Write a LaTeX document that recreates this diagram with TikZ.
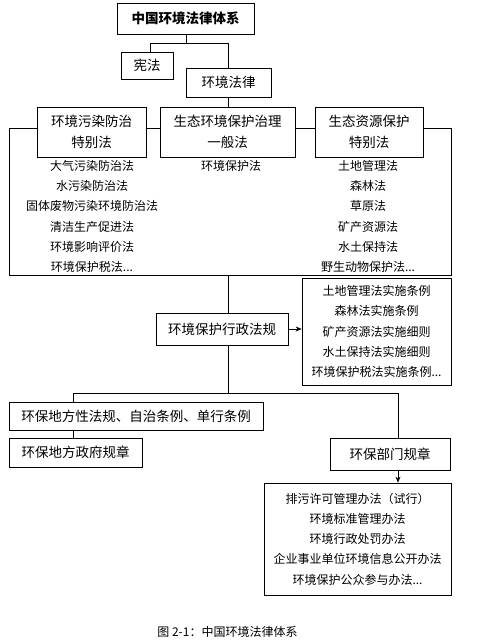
\documentclass[tikz,border=0pt]{standalone}
\usepackage{fontspec}
\setmainfont{Noto Sans CJK SC}
\usetikzlibrary{arrows.meta}
\begin{document}
\begin{tikzpicture}[x=1pt,y=-1pt,line width=0.7pt,
  box/.style={draw,fill=white,inner sep=0pt,align=center,font=\fontsize{13.5}{21}\selectfont},
  lst/.style={align=center,inner sep=0pt,font=\fontsize{12}{20.2}\selectfont}]
\useasboundingbox (0,0) rectangle (484,644);
\node [box,minimum width=137,minimum height=31,font=\fontsize{13.5}{15}\selectfont\bfseries] (title) at (185.5,18.5) {中国环境法律体系};
\node [box,minimum width=52,minimum height=27] (xianfa) at (147,65.5) {宪法};
\node [box,minimum width=85,minimum height=29] (hjfl) at (228.5,82.5) {环境法律};
\coordinate (j1) at (186,43);
\coordinate (j1l) at (150,43);
\coordinate (j1r) at (228,43);
\draw (j1 |- title.south) -- (j1);
\draw (j1l) -- (j1r);
\draw (j1l) -- (j1l |- xianfa.north);
\draw (j1r) -- (j1r |- hjfl.north);
\node [box,minimum width=109,minimum height=50] (wr) at (91.5,132) {环境污染防治\\特别法};
\node [box,minimum width=135,minimum height=50] (yb) at (227.5,132) {生态环境保护治理\\一般法};
\node [box,minimum width=108,minimum height=50] (zy) at (369,132) {生态资源保护\\特别法};
\draw (hjfl.south) -- (hjfl.south |- yb.north);
\coordinate (fl) at (9,128);
\coordinate (fr) at (451,128);
\coordinate (bl) at (9,275);
\coordinate (br) at (451,275);
\draw (wr.west |- fl) -- (fl) -- (bl) -- (br) -- (fr) -- (zy.east |- fr);
\draw (wr.east |- fl) -- (yb.west |- fl);
\draw (yb.east |- fr) -- (zy.west |- fr);
\node [lst] (wrl) at (92,216.5) {大气污染防治法\\水污染防治法\\固体废物污染环境防治法\\清洁生产促进法\\环境影响评价法\\环境保护税法...};
\node [lst] (ybl) at (231,166) {环境保护法};
\node [lst] (zyl) at (368,216.5) {土地管理法\\森林法\\草原法\\矿产资源法\\水土保持法\\野生动物保护法...};
\node [box,minimum width=132,minimum height=32] (xzfg) at (222,329) {环境保护行政法规};
\node [lst,draw,minimum width=149,minimum height=107] (ssxz) at (376.5,331.5) {土地管理法实施条例\\森林法实施条例\\矿产资源法实施细则\\水土保持法实施细则\\环境保护税法实施条例...};
\coordinate (m2) at (228,275);
\draw (m2) -- (m2 |- xzfg.north);
\draw [-{Stealth[length=6pt,width=5pt]}] (xzfg.east) -- (xzfg.east -| ssxz.west);
\coordinate (j2) at (228,393);
\coordinate (j2l) at (73,393);
\coordinate (j2r) at (398,393);
\node [box,minimum width=254,minimum height=28] (dffg) at (136,416) {环保地方性法规、自治条例、单行条例};
\node [box,minimum width=133,minimum height=29] (dfzf) at (75.5,452.5) {环保地方政府规章};
\node [box,minimum width=120,minimum height=32] (bmgz) at (390,454) {环保部门规章};
\draw (m2 |- xzfg.south) -- (j2);
\draw (j2l) -- (j2r);
\draw (j2l) -- (j2l |- dffg.north);
\draw (j2r) -- (j2r |- bmgz.north);
\draw (j2l |- dffg.south) -- (j2l |- dfzf.north);
\node [lst,draw,minimum width=187,minimum height=112] (bml) at (357.5,539) {排污许可管理办法（试行）\\环境标准管理办法\\环境行政处罚办法\\企业事业单位环境信息公开办法\\环境保护公众参与办法...};
\draw [-{Stealth[length=6pt,width=5pt]}] (j2r |- bmgz.south) -- (j2r |- bml.north);
\node [anchor=west,inner sep=0pt,font=\fontsize{12}{14}\selectfont] (cap) at (157,632) {图 2-1：中国环境法律体系};
\end{tikzpicture}
\end{document}
